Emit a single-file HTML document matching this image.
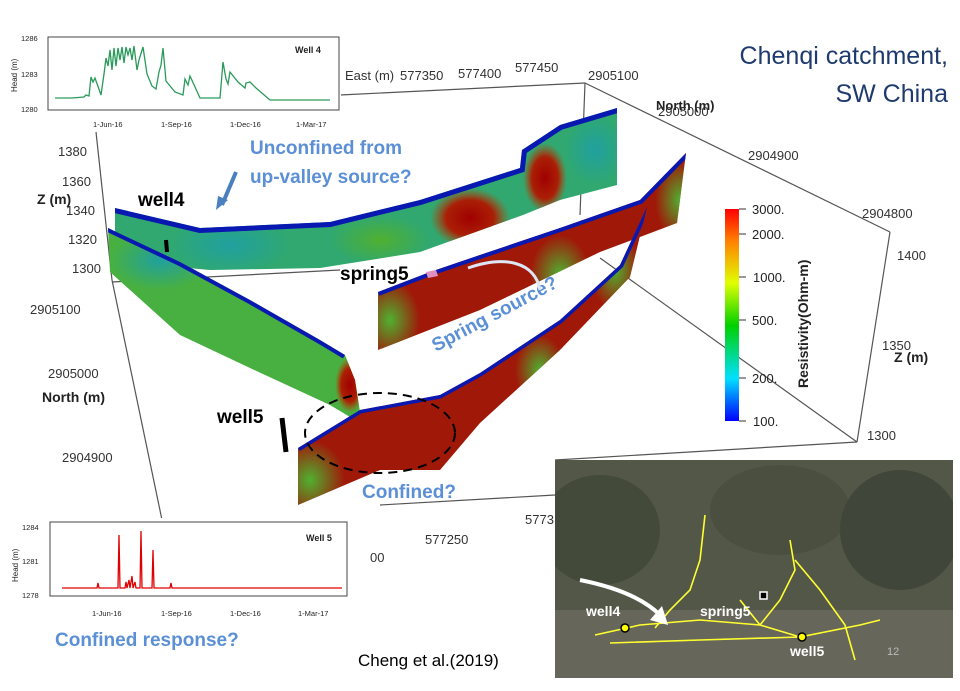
<!DOCTYPE html>
<html><head><meta charset="utf-8"><style>
html,body{margin:0;padding:0;background:#fff}
svg{display:block}
text{font-family:"Liberation Sans",sans-serif}
</style></head><body>
<svg width="960" height="691" viewBox="0 0 960 691" xmlns="http://www.w3.org/2000/svg">
<defs>
<linearGradient id="cb" x1="0" y1="1" x2="0" y2="0">
<stop offset="0" stop-color="#0000ff"/><stop offset="0.2" stop-color="#00e0ff"/><stop offset="0.45" stop-color="#00d000"/><stop offset="0.65" stop-color="#e0ff00"/><stop offset="0.85" stop-color="#ff8000"/><stop offset="1" stop-color="#ff0000"/>
</linearGradient>
<radialGradient id="red" cx="0.5" cy="0.5" r="0.5">
<stop offset="0" stop-color="#a00000"/><stop offset="0.6" stop-color="#b01800" stop-opacity="0.95"/><stop offset="1" stop-color="#c04000" stop-opacity="0"/>
</radialGradient>
<radialGradient id="grn" cx="0.5" cy="0.5" r="0.5">
<stop offset="0" stop-color="#50b030"/><stop offset="1" stop-color="#50b030" stop-opacity="0"/>
</radialGradient>
<radialGradient id="tea" cx="0.5" cy="0.5" r="0.5">
<stop offset="0" stop-color="#20a0a0"/><stop offset="1" stop-color="#20a0a0" stop-opacity="0"/>
</radialGradient>
<clipPath id="cA"><polygon points="115,208 200,228 330,222 420,200 520,168 522,150 560,125 617,108 617,185 560,200 523,215 420,252 320,268 210,270 155,265 115,240"/></clipPath>
<clipPath id="cC"><polygon points="378,292 430,272 480,255 560,228 640,200 686,153 677,223 600,252 480,310 378,350"/></clipPath>
<clipPath id="cB1"><polygon points="108,228 180,262 250,300 320,340 345,355 355,380 360,412 355,420 330,405 250,368 180,335 110,272"/></clipPath>
<clipPath id="cB2"><polygon points="298,448 360,410 440,395 480,373 560,320 620,265 647,207 630,277 560,350 480,423 440,470 380,470 298,505"/></clipPath>
<clipPath id="cS"><rect x="555" y="460" width="398" height="218"/></clipPath>
</defs>

<!-- 3D box lines -->
<g stroke="#555" stroke-width="1.2" fill="none">
<line x1="340" y1="95" x2="585" y2="83"/>
<line x1="585" y1="83" x2="890" y2="232"/>
<line x1="890" y1="232" x2="857" y2="442"/>
<line x1="585" y1="83" x2="580" y2="215"/>
<line x1="96" y1="132" x2="112" y2="280"/>
<line x1="112" y1="280" x2="162" y2="520"/>
<line x1="112" y1="282" x2="340" y2="270"/>
<line x1="600" y1="258" x2="857" y2="442"/>
<line x1="857" y1="442" x2="555" y2="460"/>
<line x1="380" y1="505" x2="555" y2="495"/>
</g>

<!-- ribbon A -->
<g clip-path="url(#cA)">
<rect x="100" y="100" width="530" height="180" fill="#30a870"/>
<ellipse cx="230" cy="245" rx="60" ry="30" fill="url(#tea)"/>
<ellipse cx="380" cy="240" rx="50" ry="25" fill="url(#grn)"/>
<ellipse cx="470" cy="218" rx="40" ry="30" fill="url(#red)"/>
<ellipse cx="545" cy="178" rx="22" ry="35" fill="url(#red)"/>
<ellipse cx="595" cy="150" rx="30" ry="35" fill="url(#tea)"/>
<polyline points="115,208 200,228 330,222 420,200 520,168 522,150 560,125 617,108" fill="none" stroke="#0818b0" stroke-width="10"/>
</g>
<!-- ribbon C -->
<g clip-path="url(#cC)">
<rect x="370" y="150" width="320" height="210" fill="#a01808"/>
<ellipse cx="390" cy="320" rx="30" ry="40" fill="url(#grn)"/>
<ellipse cx="560" cy="275" rx="30" ry="40" fill="url(#grn)"/>
<ellipse cx="680" cy="200" rx="25" ry="40" fill="url(#grn)"/>
<polyline points="378,292 430,272 480,255 560,228 640,200 686,153" fill="none" stroke="#0818b0" stroke-width="8"/>
</g>
<!-- ribbon B1 -->
<g clip-path="url(#cB1)">
<rect x="100" y="220" width="270" height="210" fill="#48b040"/>
<ellipse cx="160" cy="260" rx="50" ry="30" fill="url(#tea)"/>
<ellipse cx="350" cy="385" rx="15" ry="28" fill="url(#red)"/>
<polyline points="108,228 180,262 250,300 320,340 345,355" fill="none" stroke="#0818b0" stroke-width="8"/>
</g>
<!-- ribbon B2 -->
<g clip-path="url(#cB2)">
<rect x="290" y="200" width="360" height="310" fill="#a01808"/>
<ellipse cx="310" cy="480" rx="35" ry="40" fill="url(#grn)"/>
<ellipse cx="540" cy="370" rx="25" ry="35" fill="url(#grn)"/>
<ellipse cx="615" cy="270" rx="25" ry="40" fill="url(#grn)"/>
<polyline points="298,448 360,410 440,395 480,373 560,320 620,265 647,207" fill="none" stroke="#0818b0" stroke-width="7"/>
</g>

<!-- wells -->
<line x1="166" y1="240" x2="167" y2="252" stroke="#000" stroke-width="4"/>
<line x1="282" y1="418" x2="286" y2="452" stroke="#000" stroke-width="5"/>
<polygon points="426,272 436,270 438,276 428,278" fill="#e090c0"/>

<!-- axis labels -->
<g font-size="13" fill="#333">
<text x="345" y="80">East (m)</text>
<text x="400" y="80">577350</text><text x="458" y="78">577400</text><text x="515" y="72">577450</text>
<text x="588" y="80">2905100</text>
<text x="656" y="110" font-weight="bold" fill="#222">North (m)</text>
<text x="658" y="116">2905000</text>
<text x="748" y="160">2904900</text>
<text x="862" y="218">2904800</text>
<text x="897" y="260">1400</text>
<text x="882" y="350">1350</text>
<text x="894" y="362" font-weight="bold" font-size="14" fill="#222">Z (m)</text>
<text x="867" y="440">1300</text>
<text x="58" y="156">1380</text><text x="62" y="186">1360</text><text x="66" y="215">1340</text><text x="68" y="244">1320</text><text x="72" y="273">1300</text>
<text x="37" y="204" font-weight="bold" font-size="14" fill="#222">Z (m)</text>
<text x="30" y="314">2905100</text>
<text x="48" y="378">2905000</text>
<text x="42" y="402" font-weight="bold" font-size="14" fill="#222">North (m)</text>
<text x="62" y="462">2904900</text>
<text x="425" y="544">577250</text>
<text x="525" y="524">5773</text>
<text x="370" y="562">00</text>
</g>

<!-- colorbar -->
<rect x="725" y="209" width="14" height="212" fill="url(#cb)"/>
<g stroke="#333" stroke-width="1"><line x1="739" y1="209" x2="746" y2="209"/><line x1="739" y1="234" x2="746" y2="234"/><line x1="739" y1="277" x2="746" y2="277"/><line x1="739" y1="320" x2="746" y2="320"/><line x1="739" y1="378" x2="746" y2="378"/><line x1="739" y1="421" x2="746" y2="421"/></g>
<g font-size="13" fill="#222"><text x="752" y="214">3000.</text><text x="752" y="239">2000.</text><text x="753" y="282">1000.</text><text x="752" y="325">500.</text><text x="752" y="383">200.</text><text x="753" y="426">100.</text></g>
<text transform="translate(808,388) rotate(-90)" font-size="14" font-weight="bold" fill="#222">Resistivity(Ohm-m)</text>

<!-- texts -->
<text x="948" y="64" font-size="25" fill="#1f3a6e" text-anchor="end">Chenqi catchment,</text>
<text x="948" y="102" font-size="25" fill="#1f3a6e" text-anchor="end">SW China</text>
<g font-weight="bold" fill="#5b8fd6" font-size="19">
<text x="250" y="154">Unconfined from</text>
<text x="250" y="183">up-valley source?</text>
<text x="362" y="498">Confined?</text>
<text x="55" y="646">Confined response?</text>
<text transform="translate(436,352) rotate(-28)">Spring source?</text>
</g>
<path d="M236,172 L222,205" stroke="#4a7fc0" stroke-width="4" fill="none"/><polygon points="216,210 218,196 228,200" fill="#4a7fc0"/>
<path d="M540,290 C535,262 505,255 468,268" stroke="#dde6f5" stroke-width="3" fill="none"/>
<g font-weight="bold" font-size="19" fill="#000">
<text x="138" y="206">well4</text><text x="340" y="280">spring5</text><text x="217" y="423">well5</text>
</g>
<ellipse cx="380" cy="433" rx="75" ry="40" fill="none" stroke="#000" stroke-width="2" stroke-dasharray="9,6"/>
<text x="358" y="666" font-size="17" fill="#000">Cheng et al.(2019)</text>

<!-- well4 inset -->
<rect x="8" y="28" width="333" height="100" fill="#fff"/>
<rect x="48" y="37" width="291" height="73" fill="#fff" stroke="#444"/>
<g font-size="7.5" fill="#222"><text x="21" y="41">1286</text><text x="21" y="77">1283</text><text x="21" y="112">1280</text>
<text transform="translate(17,92) rotate(-90)" font-size="8">Head (m)</text>
<text x="93" y="127">1-Jun-16</text><text x="161" y="127">1-Sep-16</text><text x="230" y="127">1-Dec-16</text><text x="296" y="127">1-Mar-17</text>
<text x="295" y="53" font-weight="bold" font-size="9">Well 4</text></g>
<polyline fill="none" stroke="#2a9a5a" stroke-width="1.3" points="55,98 72,98 84,97 86,95 89,96 91,77 93,82 95,78 101,95 104,74 106,58 108,66 110,50 112,70 114,48 116,66 118,48 120,60 122,47 124,63 126,47 128,55 130,48 132,60 134,46 137,70 139,60 143,47 147,74 152,86 156,89 159,72 161,65 163,48 166,81 175,92 183,95 185,79 188,85 190,76 200,98 220,98 223,62 226,79 228,84 230,72 238,82 245,88 246,83 250,82 256,88 270,100 330,100"/>

<!-- well5 inset -->
<rect x="8" y="518" width="342" height="100" fill="#fff"/>
<rect x="50" y="522" width="297" height="74" fill="#fff" stroke="#444"/>
<g font-size="7.5" fill="#222"><text x="22" y="530">1284</text><text x="22" y="564">1281</text><text x="22" y="598">1278</text>
<text transform="translate(18,582) rotate(-90)" font-size="8">Head (m)</text>
<text x="92" y="616">1-Jun-16</text><text x="161" y="616">1-Sep-16</text><text x="230" y="616">1-Dec-16</text><text x="298" y="616">1-Mar-17</text>
<text x="306" y="541" font-weight="bold" font-size="9">Well 5</text></g>
<polyline fill="none" stroke="#e00000" stroke-width="1.3" points="62,588 97,588 98,583 99,588 118,588 119,535 120,588 125,588 126,582 127,588 129,580 130,588 132,576 133,588 135,582 136,588 140,588 141,531 142,588 152,588 153,550 154,588 170,588 171,583 172,588 342,588"/>

<!-- satellite -->
<g clip-path="url(#cS)">
<rect x="555" y="460" width="398" height="218" fill="#535748"/>
<ellipse cx="600" cy="530" rx="60" ry="55" fill="#434a3a"/>
<ellipse cx="780" cy="510" rx="70" ry="45" fill="#4a4f40"/>
<ellipse cx="900" cy="530" rx="60" ry="60" fill="#41463a"/>
<rect x="555" y="610" width="398" height="68" fill="#66665a"/>
</g>
<g stroke="#ffff30" stroke-width="1.6" fill="none">
<path d="M595,635 L640,625 L700,620 L760,625 L800,637 L860,625 L880,620"/>
<path d="M610,643 L700,640 L800,637"/>
<path d="M705,515 L700,560 L690,590 L670,610 L655,628"/>
<path d="M790,540 L795,570 L780,600 L760,625"/>
<path d="M795,560 L820,590 L845,625 L855,660"/>
<path d="M740,600 L760,625"/>
</g>
<path d="M580,580 C620,588 645,600 660,615" stroke="#fff" stroke-width="4" fill="none"/>
<polygon points="668,625 650,620 662,606" fill="#fff"/>
<circle cx="625" cy="628" r="4" fill="#ff0" stroke="#000" stroke-width="1.5"/>
<circle cx="802" cy="637" r="4" fill="#ff0" stroke="#000" stroke-width="1.5"/>
<rect x="760" y="592" width="7" height="7" fill="#000" stroke="#fff" stroke-width="1.5"/>
<g font-weight="bold" font-size="14" fill="#fff"><text x="586" y="616">well4</text><text x="700" y="616">spring5</text><text x="790" y="656">well5</text></g>
<text x="887" y="655" font-size="11" fill="#bbb">12</text>
</svg>
</body></html>
